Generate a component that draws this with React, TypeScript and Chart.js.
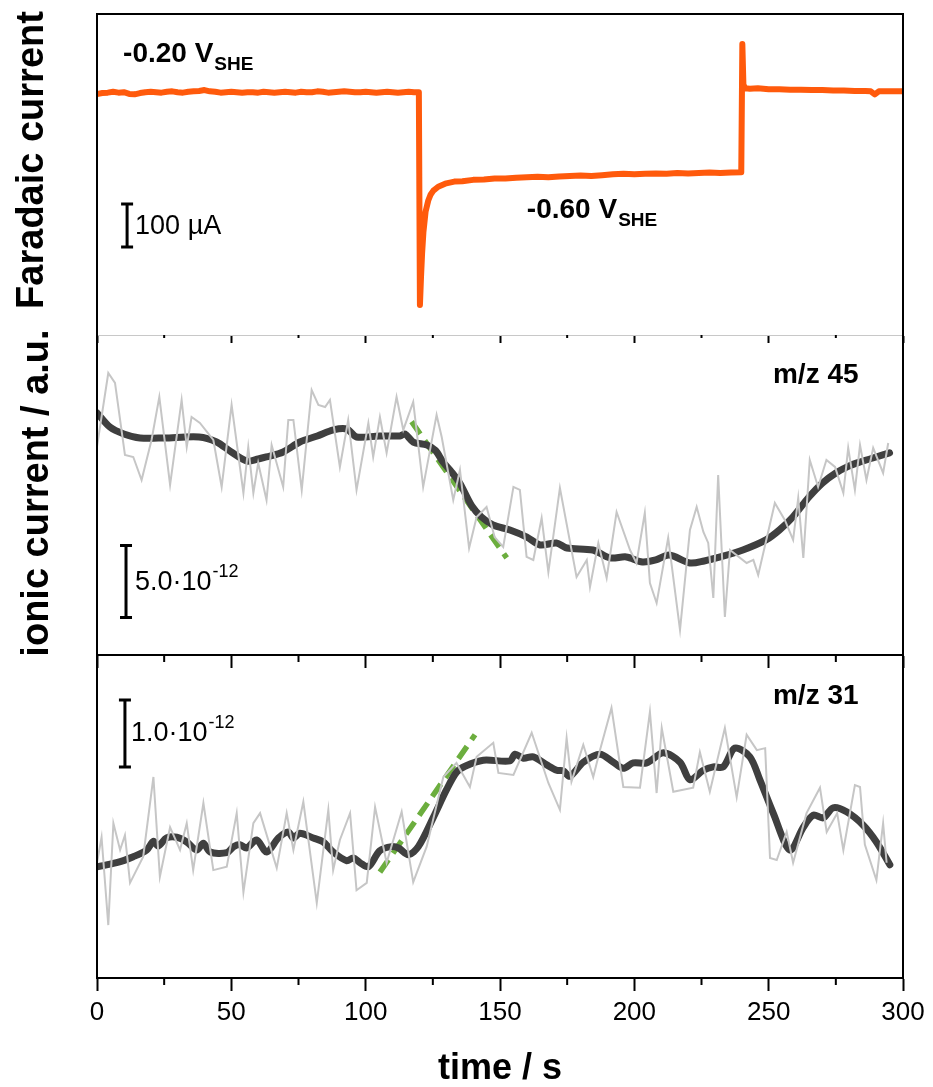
import { useEffect, useRef } from 'react';
import { Chart, registerables } from 'chart.js';

Chart.register(...registerables);

// ---------- shared time axis ----------
const timeTicks = [0, 50, 100, 150, 200, 250, 300];
const timeMinorTicks = [25, 75, 125, 175, 225, 275];

// ---------- faradaic current (µA) ----------
const faradaicTime = [
  0, 2, 4, 6, 8, 10, 12, 14, 16, 18, 20, 22, 24, 26, 28, 30, 32, 34, 36, 38,
  40, 42, 44, 46, 48, 50, 52, 54, 56, 58, 60, 62, 64, 66, 68, 70, 72, 74, 76, 78,
  80, 82, 84, 86, 88, 90, 92, 94, 96, 98, 100, 102, 104, 106, 108, 110, 112, 114, 116, 118, 119.8,
  120.2, 120.6, 121, 121.5, 122.3, 123.3, 124.2, 125.2, 127, 130, 133, 136, 140, 144, 148, 152, 156, 160,
  164, 168, 172, 176, 180, 184, 188, 192, 196, 200, 204, 208, 212, 216, 220, 224, 228, 232, 236, 239.8,
  240.2, 240.6, 241.2, 243, 246, 250, 254, 258, 262, 266, 270, 274, 278, 282, 286, 288, 289.5, 291, 294, 297, 300,
];
const faradaicCurrent = [
  -4, -2, -1, 1, -1, 0, -4, -5, -2, 0, 1, 0, -1, 1, 2, 0, -1, 1, 2, 3,
  5, 2, 1, -1, 0, 1, 0, -1, 0, 0, -1, 1, 0, -1, 0, 1, 0, -1, 1, 0,
  0, 2, 1, -1, 0, 1, 2, 1, 0, 0, 1, 0, -1, 0, 1, 0, -1, 0, 1, 0, 0,
  -495, -430, -375, -325, -278, -252, -238, -229, -220, -212, -208, -207, -204, -203, -201, -201, -199, -198,
  -197, -198, -196, -195, -194, -195, -193, -191, -190, -191, -190, -189, -190, -188, -189, -188, -187, -188, -187, -186,
  112, 18, 9, 8, 9, 7, 7, 6, 6, 5, 5, 4, 4, 3, 3, 2, -5, 2, 2, 2, 2,
];

// ---------- m/z 45 (10^-12 a.u.) ----------
const mz45Time = [
  0, 4.2, 6.7, 10.4, 13.5, 16.6, 20.3, 23.2, 27.2, 31.5,
  33.4, 35.2, 38.3, 43.3, 46.4, 50.1, 54.5, 56.3, 58.2, 60,
  63.1, 65, 69.3, 71.2, 73.1, 76.2, 79.9, 82.4, 84.9, 86.7,
  90.4, 93.5, 96.6, 101, 102.8, 105.3, 107.8, 111.5, 114, 117.7,
  121.4, 126.4, 128.3, 132.6, 135.1, 138.5, 141.3, 145, 148, 151.2,
  155, 157.4, 159.9, 162.4, 165.5, 168, 172.3, 178.5, 182.3, 183.5,
  186.6, 189.7, 193.4, 198.4, 200.8, 203.9, 205.8, 208.3, 212.6, 217,
  220.7, 223.2, 225.7, 227.5, 229.4, 231.2, 233.7, 235.6, 241.8, 244.3,
  246.1, 252.3, 256, 259.1, 261, 262.9, 265.3, 268.4, 271.5, 274.7,
  277.8, 279.6, 282.1, 284, 286.4, 288.9, 292.6, 294.5,
];
const mz45Raw = [
  14.47, 19.58, 18.89, 13.89, 13.75, 12.15, 14.93, 17.92, 11.81, 17.71,
  14.44, 16.53, 16.11, 14.93, 11.67, 17.36, 11.25, 14.44, 11.25, 13.33,
  10.76, 14.58, 11.67, 16.32, 16.32, 11.46, 18.4, 17.36, 17.22, 17.71,
  13.06, 16.32, 11.46, 16.11, 13.75, 16.53, 14.03, 17.92, 15.63, 17.57,
  11.67, 16.67, 15.14, 10.76, 12.85, 7.43, 9.58, 10.28, 8.19, 7.5,
  11.67, 11.46, 6.81, 6.6, 9.51, 5.76, 11.6, 5.42, 6.6, 4.72,
  7.78, 5.35, 9.93, 7.29, 6.39, 9.86, 5.0, 3.61, 8.13, 1.74,
  8.68, 10.28, 8.54, 7.78, 3.96, 12.5, 2.64, 7.29, 6.39, 6.6,
  5.56, 10.56, 9.38, 7.99, 10.9, 6.74, 13.54, 11.67, 13.54, 13.06,
  11.25, 14.38, 11.46, 14.58, 12.15, 14.38, 12.64, 14.72,
];
const mz45SmoothTime = [
  0, 4.8, 10, 16, 25, 38, 44.5, 50, 55.8, 60,
  63, 69.3, 75.5, 82, 88, 93, 96.6, 105, 112.8, 114.6,
  117.7, 122.8, 126, 128.8, 132, 135, 139.5, 143, 147.4, 153.7,
  160, 164.9, 171, 174.9, 184.6, 191, 197, 203, 208, 213,
  220.7, 226, 232, 240.4, 249, 254, 259, 265, 270, 275,
  280, 284, 290, 295,
];
const mz45Smooth = [
  16.81, 15.83, 15.35, 15.07, 15.07, 15.14, 14.79, 14.1, 13.47, 13.61,
  13.75, 14.1, 14.79, 15.21, 15.63, 15.69, 15.14, 15.21, 15.21, 15.35,
  14.79, 14.58, 14.2, 13.4, 12.7, 11.94, 10.35, 9.6, 9.03, 8.68,
  8.19, 7.64, 7.78, 7.43, 7.29, 6.74, 6.81, 6.46, 6.6, 6.94,
  6.39, 6.53, 6.81, 7.29, 7.99, 8.68, 9.58, 10.97, 11.94, 12.64,
  13.13, 13.4, 13.75, 14.03,
];
const mz45FitTime = [117.1, 152.5];
const mz45Fit = [16.2, 6.74];

// ---------- m/z 31 (10^-12 a.u.) ----------
const mz31Time = [
  0, 1.7, 4.2, 6.1, 8.6, 10.4, 12.3, 17.2, 21, 23.4,
  27.2, 30.9, 33.4, 35.8, 39.6, 43.3, 48.3, 52, 54.5, 58.2,
  60.7, 66.9, 70.6, 73.1, 76.8, 81.8, 86.1, 87.9, 90.4, 94.2,
  96.6, 100.4, 103.5, 107.8, 113.4, 117.7, 122.7, 128.9, 133.8, 138.8,
  141.3, 147.5, 149.4, 155, 161.8, 168, 172.3, 174.8, 176.6, 181,
  184.7, 187.2, 191.5, 195.9, 202.1, 205.8, 208.3, 210.2, 214.5, 221.9,
  224.4, 228.1, 233.7, 238.1, 241.8, 245.6, 248.7, 250.5, 253, 256.7,
  259.1, 264.1, 269.1, 271.6, 275.5, 277.8, 282.1, 284, 285.8, 290.1,
  292.6, 293.9,
];
const mz31Raw = [
  1.72, 2.1, 0.79, 2.31, 1.91, 2.13, 1.42, 1.81, 3.0, 1.51,
  2.25, 1.91, 2.31, 1.61, 2.61, 1.61, 1.66, 2.46, 1.28, 2.31,
  2.46, 1.64, 2.46, 1.91, 2.63, 1.12, 2.51, 1.61, 2.06, 2.46,
  1.31, 1.42, 2.55, 1.72, 2.48, 1.43, 1.96, 3.0, 3.21, 2.85,
  3.3, 3.51, 3.06, 3.03, 3.66, 2.91, 2.51, 3.58, 2.93, 3.48,
  3.0, 3.4, 4.03, 2.85, 2.84, 3.97, 2.76, 3.73, 2.78, 2.84,
  3.37, 2.78, 3.73, 2.7, 3.63, 3.4, 3.43, 1.79, 1.76, 2.18,
  1.72, 2.46, 2.84, 2.18, 2.46, 1.91, 2.88, 2.85, 1.99, 1.46,
  2.31, 1.72,
];
const mz31SmoothTime = [
  0, 7.3, 13.5, 18.5, 21, 22.8, 25.9, 29.7, 33.4, 37.1,
  39.6, 42.1, 48.3, 50.8, 53.2, 55.7, 59.4, 63.2, 67.5, 71.2,
  73.1, 75.5, 80.5, 84.2, 87.9, 92.9, 95.4, 97.9, 101, 105.3,
  109.7, 112.2, 115.9, 119.6, 125.1, 130.1, 133.8, 137, 143.8, 153.7,
  155.6, 158.7, 162.4, 167.4, 171.1, 173.6, 176, 181, 187.2, 192.2,
  195.9, 199.6, 204.6, 210.8, 217, 220.7, 225.7, 229.4, 233.1, 237.4,
  243, 246.7, 251.7, 257.9, 262.9, 266.6, 270.3, 274, 279, 285.2,
  290.1, 295.1,
];
const mz31Smooth = [
  1.66, 1.72, 1.81, 1.91, 2.04, 1.97, 2.09, 2.1, 2.03, 1.91,
  2.01, 1.88, 1.87, 1.96, 1.99, 1.94, 2.06, 1.88, 2.09, 2.18,
  2.09, 2.16, 2.09, 2.03, 1.88, 1.75, 1.79, 1.72, 1.66, 1.9,
  1.96, 1.94, 1.84, 1.96, 2.39, 2.81, 3.07, 3.16, 3.25, 3.24,
  3.34, 3.28, 3.3, 3.18, 3.1, 3.09, 3.01, 3.22, 3.34, 3.22,
  3.13, 3.21, 3.21, 3.36, 3.22, 2.96, 3.1, 3.15, 3.15, 3.43,
  3.3, 2.96, 2.46, 1.91, 2.25, 2.43, 2.39, 2.54, 2.48, 2.28,
  2.03, 1.69,
];
const mz31FitTime = [105.3, 140.7];
const mz31Fit = [1.58, 3.63];

// ---------- styling ----------
const FONT = '"Liberation Sans", Arial, Helvetica, sans-serif';
const ORANGE = '#ff5a0c';
const RAW_GREY = '#c6c6c6';
const SMOOTH_GREY = '#3f3f3f';
const FIT_GREEN = '#6cae3e';

const series = (xs: number[], ys: number[]) => xs.map((x, i) => ({ x, y: ys[i] }));

const rawLine = (xs: number[], ys: number[]) => ({
  data: series(xs, ys),
  borderColor: RAW_GREY,
  borderWidth: 2,
  pointRadius: 0,
  tension: 0,
});
const smoothLine = (xs: number[], ys: number[]) => ({
  data: series(xs, ys),
  borderColor: SMOOTH_GREY,
  borderWidth: 7,
  pointRadius: 0,
  tension: 0.3,
  borderCapStyle: 'round',
  borderJoinStyle: 'round',
});
const fitLine = (xs: number[], ys: number[]) => ({
  data: series(xs, ys),
  borderColor: FIT_GREEN,
  borderWidth: 5.5,
  borderDash: [15, 8],
  pointRadius: 0,
  tension: 0,
});

// ---------- drawing helpers ----------
function textWithScript(
  ctx: CanvasRenderingContext2D,
  x: number,
  y: number,
  main: string,
  script: string,
  size: number,
  scriptSize: number,
  shift: number,
  weight: string,
) {
  ctx.font = `${weight} ${size}px ${FONT}`;
  ctx.fillText(main, x, y);
  const w = ctx.measureText(main).width;
  ctx.font = `${weight} ${scriptSize}px ${FONT}`;
  ctx.fillText(script, x + w + 1, y + shift);
}

function scaleBar(ctx: CanvasRenderingContext2D, x: number, yTop: number, yBottom: number) {
  ctx.save();
  ctx.strokeStyle = '#000';
  ctx.lineWidth = 3;
  ctx.beginPath();
  ctx.moveTo(x, yTop);
  ctx.lineTo(x, yBottom);
  ctx.moveTo(x - 6, yTop);
  ctx.lineTo(x + 6, yTop);
  ctx.moveTo(x - 6, yBottom);
  ctx.lineTo(x + 6, yBottom);
  ctx.stroke();
  ctx.restore();
}

function axisTitle(ctx: CanvasRenderingContext2D, text: string, cx: number, cy: number) {
  ctx.save();
  ctx.translate(cx, cy);
  ctx.rotate(-Math.PI / 2);
  ctx.font = `bold 38px ${FONT}`;
  ctx.textAlign = 'center';
  ctx.textBaseline = 'middle';
  ctx.fillStyle = '#000';
  ctx.fillText(text, 0, 0);
  ctx.restore();
}

type Panel = {
  canvasTop: number;
  canvasHeight: number;
  padTop: number;
  axisHeight: number;
  yMin: number;
  yMax: number;
  datasets: any[];
  topEdge: boolean;
  baseColor: string;
  baseWidth: number;
  majorLen: number;
  minorLen: number;
  tickLabels: boolean;
  decorate: (chart: any, ctx: CanvasRenderingContext2D) => void;
};

const panels: Panel[] = [
  {
    canvasTop: 0,
    canvasHeight: 360,
    padTop: 14,
    axisHeight: 25,
    yMin: -565,
    yMax: 182,
    datasets: [
      {
        data: series(faradaicTime, faradaicCurrent),
        borderColor: ORANGE,
        borderWidth: 6,
        pointRadius: 0,
        tension: 0,
        borderCapStyle: 'round',
        borderJoinStyle: 'round',
      },
    ],
    topEdge: true,
    baseColor: '#c8c8c8',
    baseWidth: 1,
    majorLen: 8,
    minorLen: 3,
    tickLabels: false,
    decorate: (chart, ctx) => {
      const xs = chart.scales.x;
      const ys = chart.scales.y;
      const top = chart.chartArea.top;
      ctx.fillStyle = '#000';
      ctx.textBaseline = 'alphabetic';
      ctx.textAlign = 'left';
      textWithScript(ctx, xs.getPixelForValue(9.7), top + 48, '-0.20 V', 'SHE', 28, 19, 8, 'bold');
      textWithScript(ctx, xs.getPixelForValue(160), top + 204, '-0.60 V', 'SHE', 28, 19, 8, 'bold');
      const bx = xs.getPixelForValue(11.2);
      const y1 = ys.getPixelForValue(-260);
      const y2 = ys.getPixelForValue(-360);
      scaleBar(ctx, bx, y1, y2);
      ctx.font = `27px ${FONT}`;
      ctx.fillText('100 µA', bx + 8, (y1 + y2) / 2 + 9);
      axisTitle(ctx, 'Faradaic current', 33, 160);
    },
  },
  {
    canvasTop: 321,
    canvasHeight: 354,
    padTop: 14,
    axisHeight: 20,
    yMin: 0,
    yMax: 22.22,
    datasets: [rawLine(mz45Time, mz45Raw), smoothLine(mz45SmoothTime, mz45Smooth), fitLine(mz45FitTime, mz45Fit)],
    topEdge: false,
    baseColor: '#000',
    baseWidth: 2,
    majorLen: 13,
    minorLen: 7,
    tickLabels: false,
    decorate: (chart, ctx) => {
      const xs = chart.scales.x;
      const ys = chart.scales.y;
      const top = chart.chartArea.top;
      ctx.fillStyle = '#000';
      ctx.textAlign = 'left';
      ctx.textBaseline = 'alphabetic';
      ctx.font = `bold 28px ${FONT}`;
      ctx.fillText('m/z 45', xs.getPixelForValue(251.6), top + 48);
      const bx = xs.getPixelForValue(10.8);
      const y1 = ys.getPixelForValue(7.6);
      const y2 = ys.getPixelForValue(2.6);
      scaleBar(ctx, bx, y1, y2);
      textWithScript(ctx, bx + 9, (y1 + y2) / 2 + 8, '5.0·10', '-12', 27, 18, -13, 'normal');
      axisTitle(ctx, 'ionic current / a.u.', 38, 172);
    },
  },
  {
    canvasTop: 641,
    canvasHeight: 446,
    padTop: 14,
    axisHeight: 109,
    yMin: 0,
    yMax: 4.82,
    datasets: [rawLine(mz31Time, mz31Raw), smoothLine(mz31SmoothTime, mz31Smooth), fitLine(mz31FitTime, mz31Fit)],
    topEdge: false,
    baseColor: '#000',
    baseWidth: 2,
    majorLen: 13,
    minorLen: 7,
    tickLabels: true,
    decorate: (chart, ctx) => {
      const xs = chart.scales.x;
      const ys = chart.scales.y;
      const top = chart.chartArea.top;
      ctx.fillStyle = '#000';
      ctx.textAlign = 'left';
      ctx.textBaseline = 'alphabetic';
      ctx.font = `bold 28px ${FONT}`;
      ctx.fillText('m/z 31', xs.getPixelForValue(251.6), top + 49);
      const bx = xs.getPixelForValue(10.4);
      const y1 = ys.getPixelForValue(4.15);
      const y2 = ys.getPixelForValue(3.15);
      scaleBar(ctx, bx, y1, y2);
      textWithScript(ctx, bx + 6, (y1 + y2) / 2 + 8, '1.0·10', '-12', 27, 18, -13, 'normal');
    },
  },
];

function makePlugin(p: Panel) {
  return {
    id: 'panelFrame',
    afterDraw(chart: any) {
      const ctx: CanvasRenderingContext2D = chart.ctx;
      const { left, right, top, bottom } = chart.chartArea;
      const xs = chart.scales.x;
      ctx.save();
      ctx.strokeStyle = '#000';
      ctx.lineWidth = 2;
      ctx.beginPath();
      ctx.moveTo(left, bottom);
      ctx.lineTo(left, top);
      if (p.topEdge) ctx.lineTo(right, top);
      else ctx.moveTo(right, top);
      ctx.lineTo(right, bottom);
      // minor ticks of the time axis
      for (const v of timeMinorTicks) {
        const px = xs.getPixelForValue(v);
        ctx.moveTo(px, bottom);
        ctx.lineTo(px, bottom + p.minorLen);
      }
      ctx.stroke();
      p.decorate(chart, ctx);
      ctx.restore();
    },
  };
}

function makeConfig(p: Panel): any {
  return {
    type: 'line',
    data: { datasets: p.datasets },
    options: {
      animation: false,
      responsive: false,
      devicePixelRatio: 1,
      events: [],
      layout: { padding: { left: 97, right: 30, top: p.padTop, bottom: 0 } },
      plugins: { legend: { display: false }, tooltip: { enabled: false } },
      scales: {
        x: {
          type: 'linear',
          min: 0,
          max: 300,
          afterBuildTicks: (s: any) => {
            s.ticks = timeTicks.map((value) => ({ value }));
          },
          afterFit: (s: any) => {
            s.height = p.axisHeight;
          },
          grid: {
            display: true,
            drawOnChartArea: false,
            drawTicks: true,
            tickLength: p.majorLen,
            tickWidth: 2,
            tickColor: '#000',
          },
          border: { display: true, color: p.baseColor, width: p.baseWidth },
          ticks: {
            display: p.tickLabels,
            color: '#000',
            font: { family: FONT, size: 26 },
            padding: 6,
            maxRotation: 0,
            autoSkip: false,
            callback: (v: number) => String(v),
          },
          title: {
            display: p.tickLabels,
            text: 'time / s',
            color: '#000',
            font: { family: FONT, size: 36, weight: 'bold', lineHeight: 1 },
            padding: 0,
          },
        },
        y: { type: 'linear', display: false, min: p.yMin, max: p.yMax },
      },
    },
    plugins: [makePlugin(p)],
  };
}

export default function App() {
  const canvases = useRef<(HTMLCanvasElement | null)[]>([]);

  useEffect(() => {
    const charts = panels.map((p, i) => new Chart(canvases.current[i] as HTMLCanvasElement, makeConfig(p)));
    return () => charts.forEach((c) => c.destroy());
  }, []);

  return (
    <div
      style={{
        position: 'absolute',
        left: 0,
        top: 0,
        width: 933,
        height: 1087,
        background: '#fff',
        overflow: 'hidden',
      }}
    >
      {panels.map((p, i) => (
        <canvas
          key={i}
          ref={(el) => {
            canvases.current[i] = el;
          }}
          width={933}
          height={p.canvasHeight}
          style={{ position: 'absolute', left: 0, top: p.canvasTop, width: 933, height: p.canvasHeight }}
        />
      ))}
    </div>
  );
}
